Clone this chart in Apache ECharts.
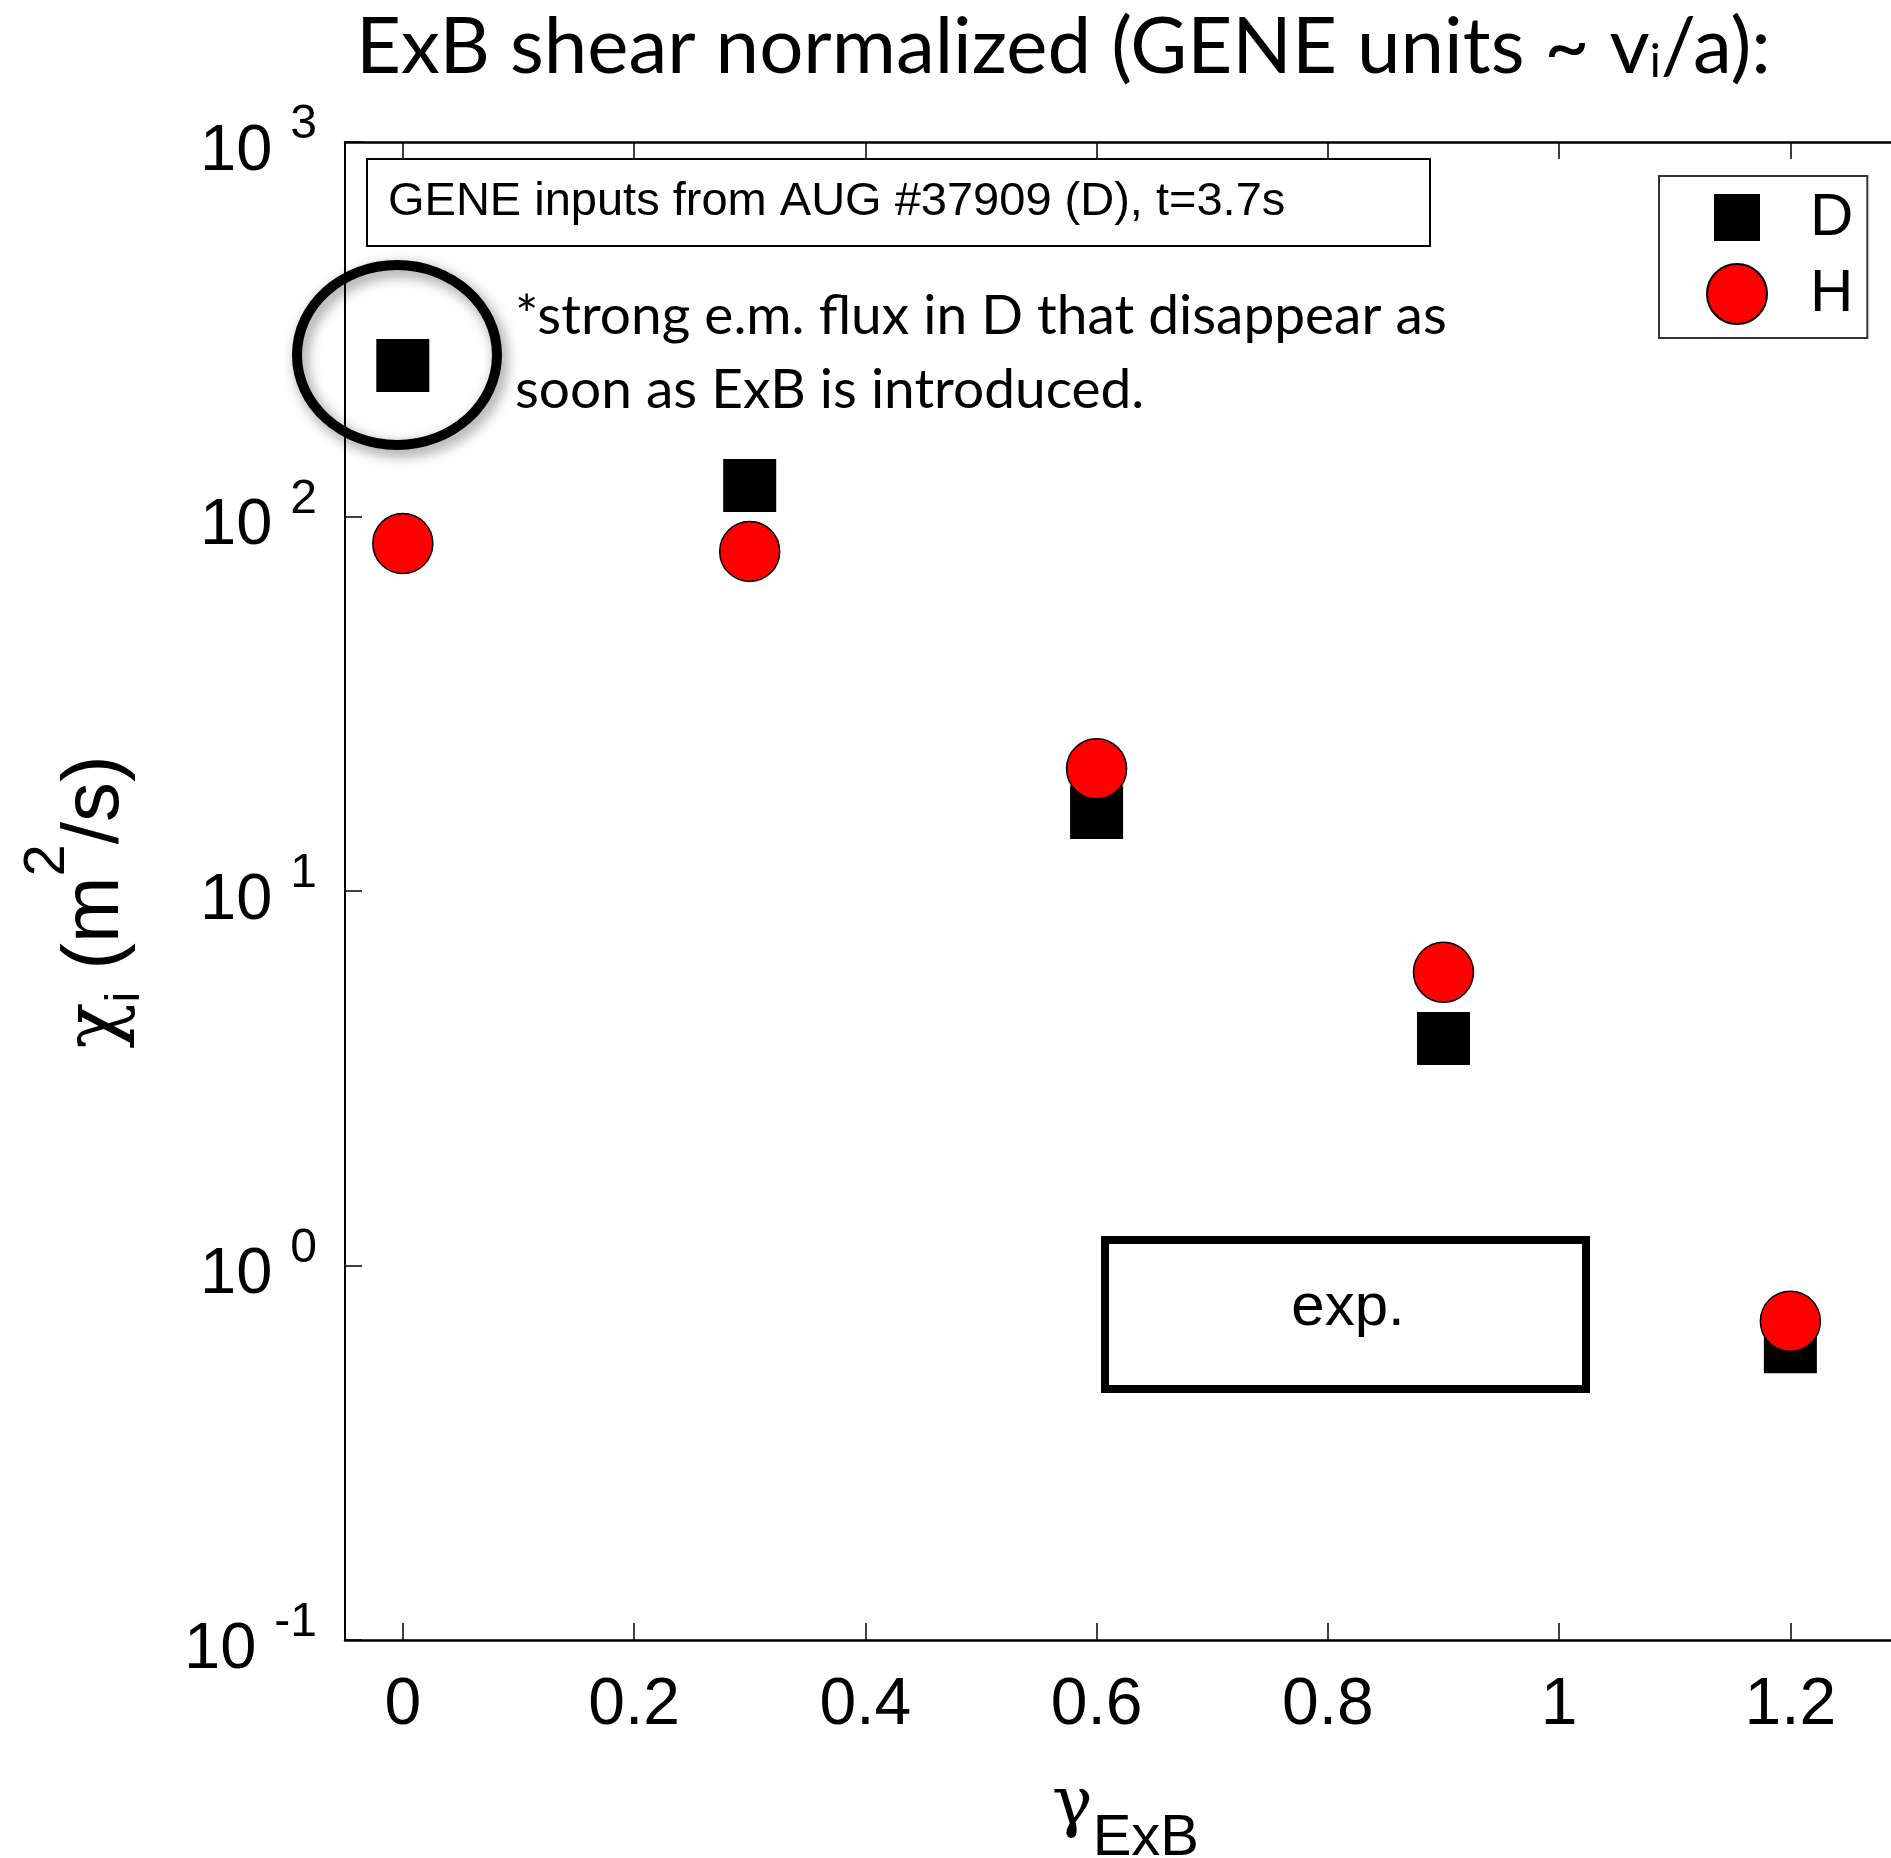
<!DOCTYPE html>
<html><head><meta charset="utf-8">
<script src="https://cdn.jsdelivr.net/npm/echarts@6/dist/echarts.min.js"></script>
<style>html,body{margin:0;padding:0;background:#fff}#c{width:1891px;height:1858px}</style>
</head><body><div id="c"></div>
<script>
// ---- data ----
const gammaExB = [0, 0.3, 0.6, 0.9, 1.2];
const chiD = [253, 121, 16.2, 4.04, 0.607];
const chiH = [84.7, 80.7, 21.2, 6.07, 0.71];
const seriesNames = ['D', 'H'];
const xTicks = [0, 0.2, 0.4, 0.6, 0.8, 1, 1.2];
const yTickExps = [-1, 0, 1, 2, 3];
const titleParts = ['ExB shear normalized (GENE units ~ v', 'i', '/a):'];
const boxText = 'GENE inputs from AUG #37909 (D), t=3.7s';
const noteLines = ['*strong e.m. flux in D that disappear as', 'soon as ExB is introduced.'];
const expText = 'exp.';

const SANS = '"Liberation Sans", Arial, sans-serif';
const CAL = 'Lato, "Open Sans", sans-serif';
const SERIF = '"DejaVu Serif", "Liberation Serif", serif';

const chart = echarts.init(document.getElementById('c'), null, {renderer: 'canvas'});

const option = {
  animation: false,
  backgroundColor: '#fff',
  grid: {left: 345, top: 142, right: -15, bottom: 218, containLabel: false, outerBoundsMode: 'none'},
  legend: {
    orient: 'vertical', left: 1659, top: 176,
    padding: [12, 14, 13, 47], itemGap: 15, itemWidth: 60, itemHeight: 60,
    borderColor: '#333', borderWidth: 2, backgroundColor: '#fff',
    selectedMode: false,
    textStyle: {fontSize: 60, fontFamily: SANS, color: '#000', padding: [0, 0, 0, 38]},
    data: [
      {name: seriesNames[0], icon: 'path://M0,0M60,60M7,6h46v47h-46z'},
      {name: seriesNames[1], icon: 'circle'}
    ]
  },
  xAxis: [{
    type: 'value', min: -0.05, max: 1.3, position: 'bottom',
    axisLine: {show: true, onZero: false, lineStyle: {color: '#000', width: 2.5}},
    axisTick: {show: true, inside: true, length: 17, lineStyle: {color: '#000', width: 1.5}, customValues: xTicks},
    axisLabel: {show: true, customValues: xTicks, margin: 33, fontSize: 66, fontFamily: SANS, color: '#000'},
    splitLine: {show: false},
    name: '{g|γ}{s|ExB}', nameLocation: 'middle', nameGap: 152,
    nameTextStyle: {verticalAlign: 'middle', rich: {
      g: {fontSize: 68, fontFamily: SERIF, color: '#000', lineHeight: 68},
      s: {fontSize: 58, fontFamily: SANS, color: '#000', lineHeight: 58, padding: [66, 0, 0, 0]}
    }}
  }, {
    type: 'value', min: -0.05, max: 1.3, position: 'top',
    axisLine: {show: true, onZero: false, lineStyle: {color: '#000', width: 2.5}},
    axisTick: {show: true, inside: true, length: 17, lineStyle: {color: '#000', width: 1.5}, customValues: xTicks},
    axisLabel: {show: false},
    splitLine: {show: false}
  }],
  yAxis: {
    type: 'log', logBase: 10, min: Math.pow(10, yTickExps[0]), max: Math.pow(10, yTickExps[yTickExps.length - 1]),
    axisLine: {show: true, onZero: false, lineStyle: {color: '#000', width: 2}},
    axisTick: {show: true, inside: true, length: 17, lineStyle: {color: '#000', width: 1.5}},
    minorTick: {show: false},
    splitLine: {show: false},
    axisLabel: {
      margin: 28, color: '#000',
      formatter: function (v) {
        const e = Math.round(Math.log10(v));
        if (yTickExps.indexOf(e) < 0) return '';
        return '{b|10}{s|' + e + '}';
      },
      rich: {
        b: {fontSize: 65, fontFamily: SANS, color: '#000', lineHeight: 65, padding: [20, 0, 0, 0]},
        s: {fontSize: 48, fontFamily: SANS, color: '#000', lineHeight: 48, padding: [0, 0, 34, 18]}
      }
    },
    name: '{g|χ}{sub|i}{t| (m}{sup|2}{e|/s)}', nameLocation: 'middle', nameGap: 245,
    nameTextStyle: {verticalAlign: 'middle', align: 'center', rich: {
      g: {fontSize: 76, fontFamily: SERIF, color: '#000', lineHeight: 76, padding: [4, 0, 0, 0]},
      sub: {fontSize: 48, fontFamily: SANS, color: '#000', lineHeight: 48, padding: [60, 0, 0, 0]},
      t: {fontSize: 80, fontFamily: SANS, color: '#000', lineHeight: 80},
      sup: {fontSize: 58, fontFamily: SANS, color: '#000', lineHeight: 58, padding: [0, 0, 96, 0]},
      e: {fontSize: 80, fontFamily: SANS, color: '#000', lineHeight: 80, padding: [0, 22, 0, 0]}
    }}
  },
  series: [{
    name: seriesNames[0], type: 'scatter', symbol: 'rect', symbolSize: 53,
    itemStyle: {color: '#000', opacity: 1}, emphasis: {disabled: true},
    data: gammaExB.map((x, i) => [x, chiD[i]]), z: 3
  }, {
    name: seriesNames[1], type: 'scatter', symbol: 'circle', symbolSize: 60,
    itemStyle: {color: '#ff0000', borderColor: '#000', borderWidth: 1.5, opacity: 1}, emphasis: {disabled: true},
    data: gammaExB.map((x, i) => [x, chiH[i]]), z: 4
  }],
  graphic: [
    {type: 'text', z: 50, style: {
      x: 356, y: 48, verticalAlign: 'middle', align: 'left',
      text: '{a|' + titleParts[0] + '}{s|' + titleParts[1] + '}{a|' + titleParts[2] + '}',
      rich: {
        a: {fontSize: 78, fontFamily: CAL, fill: '#000', lineHeight: 78},
        s: {fontSize: 46, fontFamily: CAL, fill: '#000', lineHeight: 46, padding: [28, 0, 0, 0]}
      }
    }},
    {type: 'rect', z: 50, shape: {x: 367, y: 159, width: 1063, height: 87},
      style: {fill: '#fff', stroke: '#000', lineWidth: 2}},
    {type: 'text', z: 51, style: {x: 388, y: 202, text: boxText, verticalAlign: 'middle',
      fontSize: 47, fontFamily: SANS, fill: '#000'}},
    {type: 'text', z: 51, style: {x: 515, y: 316, text: noteLines[0], verticalAlign: 'middle',
      fontSize: 55, fontFamily: CAL, fill: '#000'}},
    {type: 'text', z: 51, style: {x: 515, y: 390, text: noteLines[1], verticalAlign: 'middle',
      fontSize: 55, fontFamily: CAL, fill: '#000'}},
    {type: 'ellipse', z: 60, shape: {cx: 397, cy: 355, rx: 100, ry: 90},
      style: {fill: 'none', stroke: '#000', lineWidth: 10, shadowBlur: 14,
        shadowColor: 'rgba(0,0,0,0.45)', shadowOffsetX: 4, shadowOffsetY: 5}},
    {type: 'rect', z: 50, shape: {x: 1105, y: 1240, width: 481, height: 149},
      style: {fill: '#fff', stroke: '#000', lineWidth: 8}},
    {type: 'text', z: 51, style: {x: 1348, y: 1308, text: expText, align: 'center', verticalAlign: 'middle',
      fontSize: 60, fontFamily: SANS, fill: '#000'}}
  ]
};
chart.setOption(option);
</script>
</body></html>
